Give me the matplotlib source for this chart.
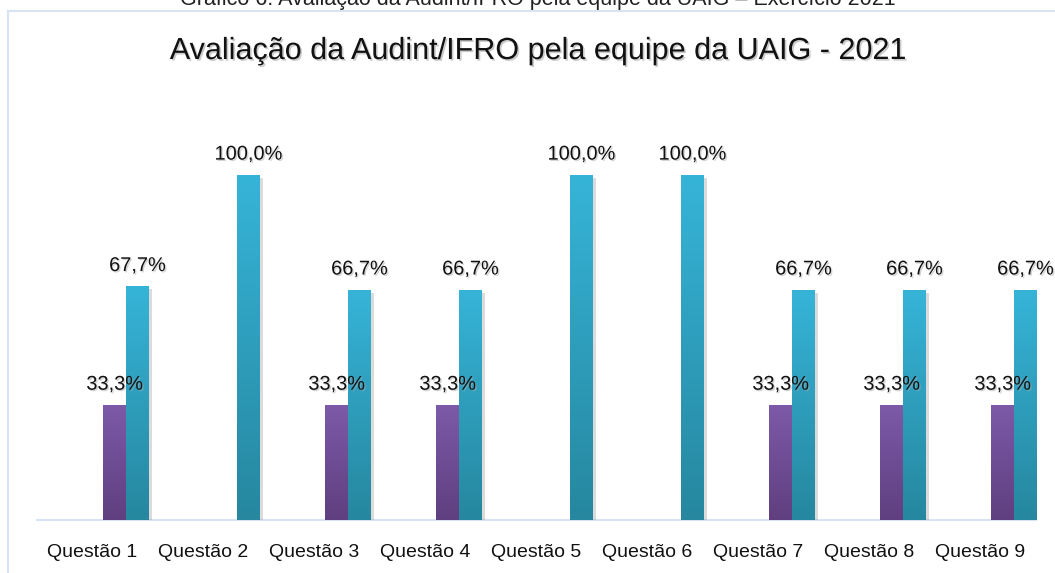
import numpy as np
import matplotlib
matplotlib.use("Agg")
import matplotlib.pyplot as plt
from matplotlib import font_manager
from matplotlib.colors import LinearSegmentedColormap
import matplotlib.patheffects as pe

categories = ["Questão 1", "Questão 2", "Questão 3", "Questão 4", "Questão 5",
              "Questão 6", "Questão 7", "Questão 8", "Questão 9"]
serie_a = [33.3, 0, 33.3, 33.3, 0, 0, 33.3, 33.3, 33.3]
serie_b = [67.7, 100.0, 66.7, 66.7, 100.0, 100.0, 66.7, 66.7, 66.7]
title = "Avaliação da Audint/IFRO pela equipe da UAIG - 2021"
caption = "Gráfico 6: Avaliação da Audint/IFRO pela equipe da UAIG – Exercício 2021"

names = {f.name for f in font_manager.fontManager.ttflist}
narrow = "Liberation Sans Narrow" if "Liberation Sans Narrow" in names else None
plt.rcParams['font.family'] = ([narrow] if narrow else []) + ['Liberation Sans', 'DejaVu Sans']
k = 1.0 if narrow else 0.8  # size factor for narrow-looking labels

W, H = 1055, 573
fig = plt.figure(figsize=(W/100, H/100), dpi=100)

def fx(px): return px / W
def fy(py): return 1 - py / H

# chart border (light blue)
fig.add_artist(plt.Line2D([fx(8), fx(1055)], [fy(11), fy(11)], color="#d6e4f5", lw=1.5))
fig.add_artist(plt.Line2D([fx(8), fx(8)], [fy(11), fy(573)], color="#d6e4f5", lw=1.5))

# caption (cut off at top, as in the reference)
fig.text(fx(538), fy(-1), caption, ha="center", va="center", fontsize=15.5,
         color="#222222", family="Liberation Sans")

# title
fig.text(fx(537), fy(51), title, ha="center", va="center", fontsize=22, color="#111111",
         family="Liberation Sans",
         path_effects=[pe.withSimplePatchShadow(offset=(1.2, -1.2), shadow_rgbFace="#999999", alpha=0.5)])

ax_left, ax_right = 37, 1036
base_y, top_y = 520, 106
ax = fig.add_axes([fx(ax_left), fy(base_y), (ax_right-ax_left)/W, (base_y-top_y)/H])
ax.set_xlim(-0.5, len(categories) - 0.5)
ax.set_ylim(0, 120)
x = np.arange(len(categories))
bw = 0.205
off_a, off_b = 0.2, 0.405

bars_a = ax.bar(x + off_a, serie_a, width=bw, color="#6f4f96", zorder=3)
bars_b = ax.bar(x + off_b, serie_b, width=bw, color="#2f9fbd", zorder=3)

cmap_a = LinearSegmentedColormap.from_list("a", ["#5f3f7f", "#7c5aa8"])
cmap_b = LinearSegmentedColormap.from_list("b", ["#26879f", "#36b4d8"])
grad = np.linspace(0, 1, 256).reshape(-1, 1)
for bars, cmap in ((bars_a, cmap_a), (bars_b, cmap_b)):
    for b in bars:
        h = b.get_height()
        if h <= 0:
            continue
        b.set_path_effects([pe.withSimplePatchShadow(offset=(2, -2), shadow_rgbFace="#888888", alpha=0.3)])
        x0 = b.get_x(); w = b.get_width()
        im = ax.imshow(grad, extent=[x0, x0 + w, 0, h], origin="lower", cmap=cmap,
                       aspect="auto", zorder=4)
        im.set_clip_path(b)

for bars, vals in ((bars_a, serie_a), (bars_b, serie_b)):
    for b, v in zip(bars, vals):
        if v <= 0:
            continue
        ax.text(b.get_x() + b.get_width()/2, v + 3.3, f"{v:.1f}%".replace(".", ","),
                ha="center", va="bottom", fontsize=18 * k, color="#111111", zorder=6,
                path_effects=[pe.withSimplePatchShadow(offset=(1, -1), shadow_rgbFace="#aaaaaa", alpha=0.5)])

ax.set_xticks(x)
ax.set_xticklabels(categories, fontsize=17.5 * k, color="#111111")
ax.tick_params(axis="x", length=0, pad=17)
ax.set_yticks([])
for s in ("left", "right", "top"):
    ax.spines[s].set_visible(False)
ax.spines["bottom"].set_color("#d6e4f5")
ax.spines["bottom"].set_linewidth(1.5)
ax.patch.set_alpha(0)

fig.savefig("out.png", dpi=100)
